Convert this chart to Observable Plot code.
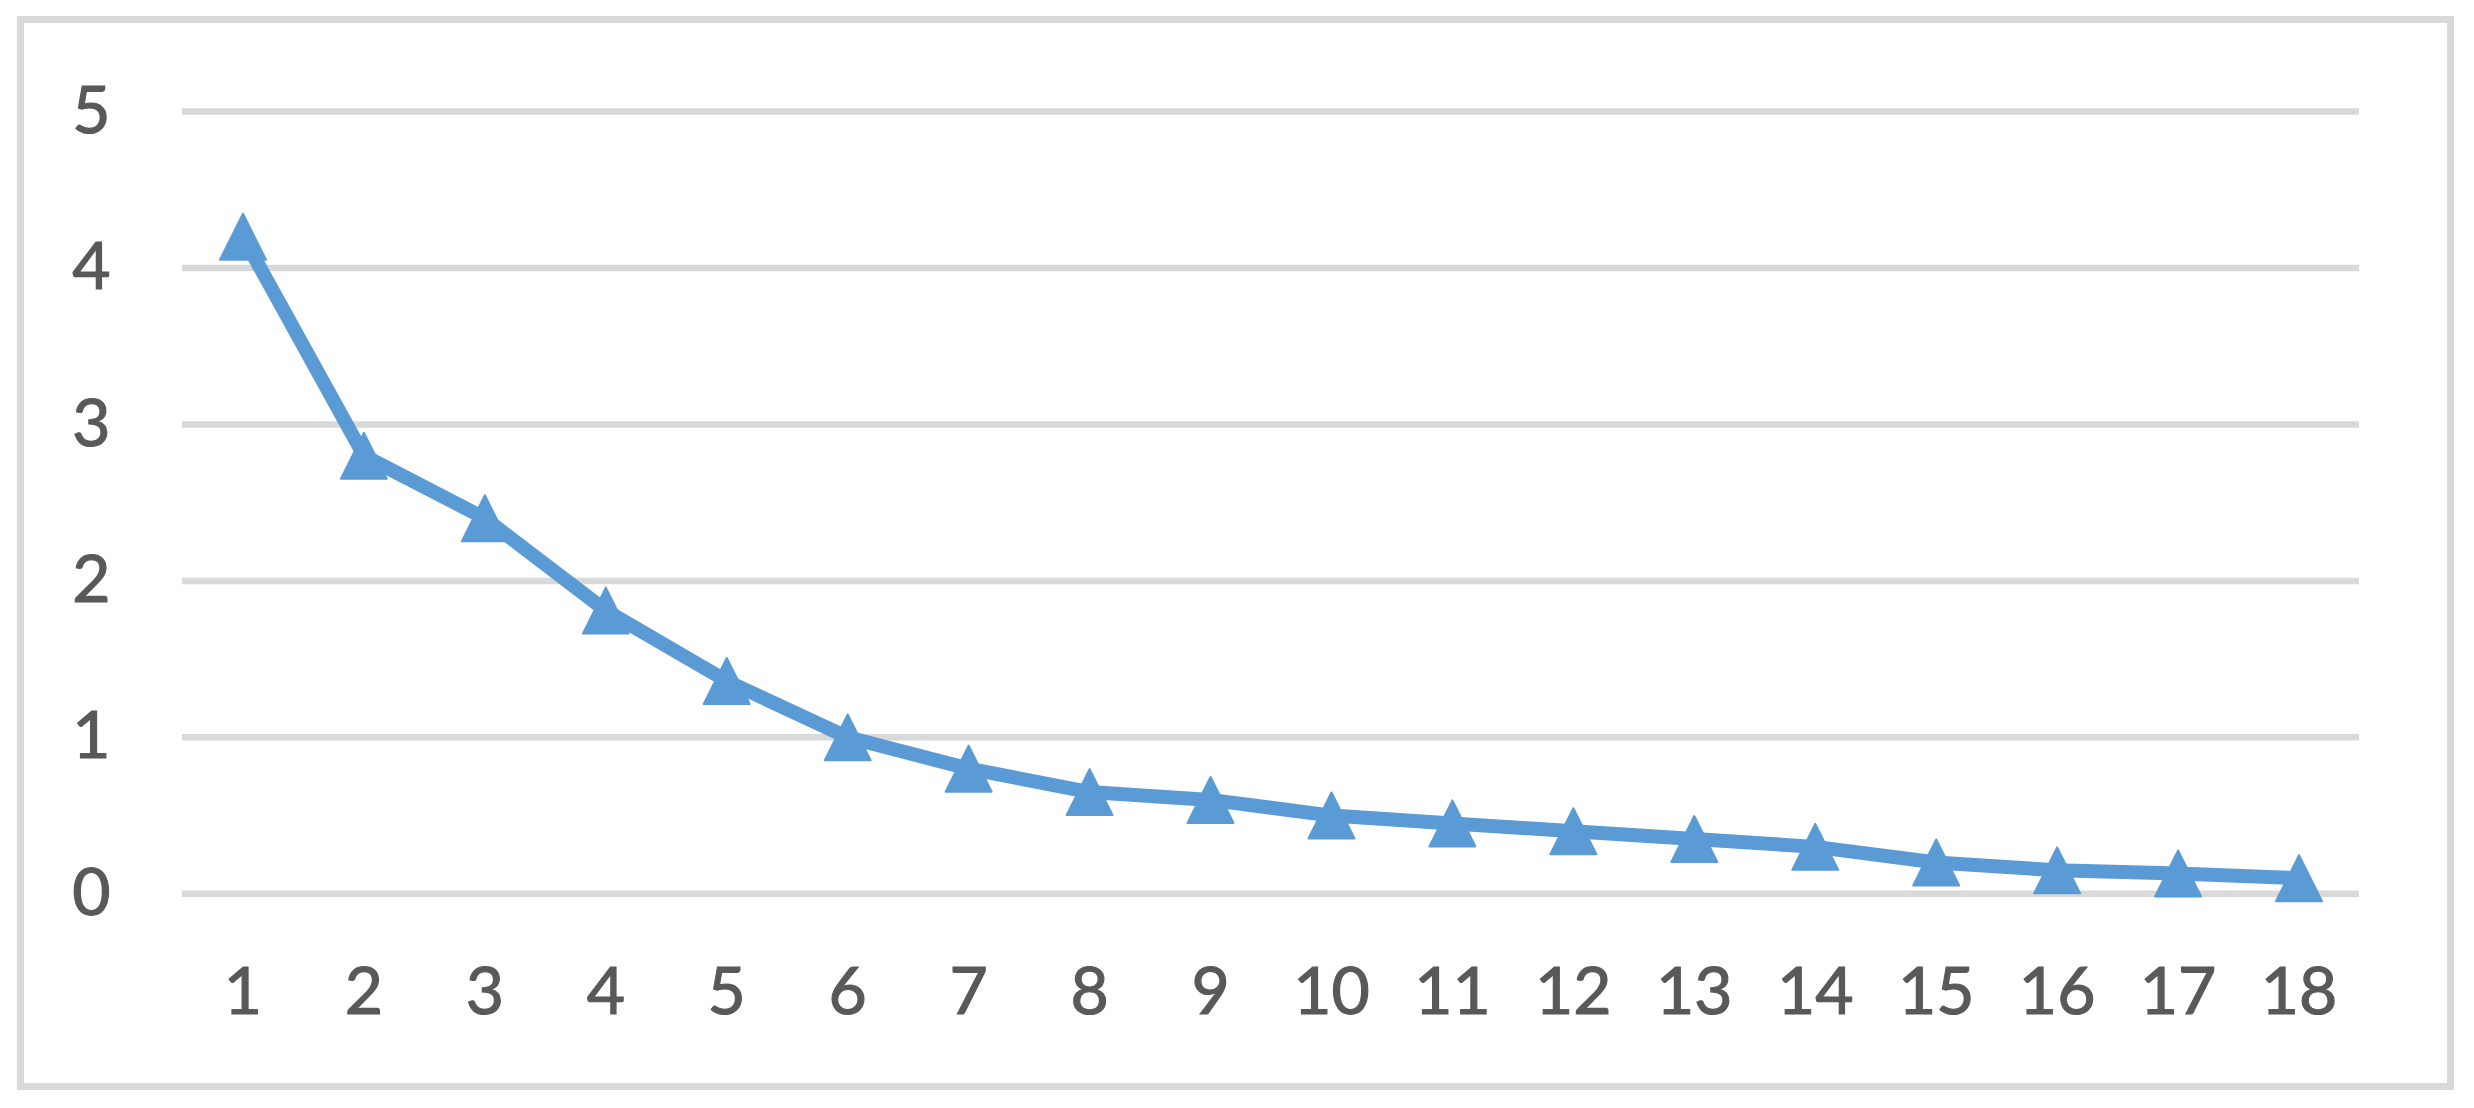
<!DOCTYPE html>
<html>
<head>
<meta charset="utf-8">
<script src="https://cdn.jsdelivr.net/npm/d3@7"></script>
<script src="https://cdn.jsdelivr.net/npm/@observablehq/plot@0.6"></script>
<style>
  body { margin: 0; background: #fff; }
  #wrap { position: relative; width: 2474px; height: 1108px; }
  #wrap svg { position: absolute; left: 0; top: 0; }
  #wrap svg text { font-weight: 400; stroke: #595959; stroke-width: 1.2px; }
  #frame { position: absolute; left: 17px; top: 16px; width: 2437px; height: 1074px; box-sizing: border-box; border: 7px solid #d9d9d9; pointer-events: none; }
</style>
</head>
<body>
<div id="wrap"><div id="frame"></div></div>
<script>
const categories = ["1","2","3","4","5","6","7","8","9","10","11","12","13","14","15","16","17","18"];
const values = [4.2, 2.8, 2.4, 1.81, 1.36, 1.0, 0.8, 0.65, 0.6, 0.5, 0.45, 0.4, 0.35, 0.3, 0.2, 0.15, 0.13, 0.1];
const yTicks = [0, 1, 2, 3, 4, 5];

const data = categories.map((c, i) => ({ c, v: values[i] }));

// Excel-style triangle: as tall as it is wide, centred on its bounding box
const triangle = {
  draw(ctx, size) {
    const r = Math.sqrt(size / Math.PI);
    ctx.moveTo(0, -r);
    ctx.lineTo(r, r);
    ctx.lineTo(-r, r);
    ctx.closePath();
  }
};

const blue = "#5b9bd5";

const chart = Plot.plot({
  width: 2474,
  height: 1108,
  marginLeft: 182,
  marginRight: 115,
  marginTop: 111,
  marginBottom: 214.7,
  style: { fontFamily: "Lato, 'Open Sans', sans-serif", fontSize: "66px", fontWeight: "400", color: "#595959", background: "transparent" },
  x: { type: "point", domain: categories, padding: 0.5, round: false },
  y: { domain: [0, 5] },
  marks: [
    Plot.ruleY(yTicks, { stroke: "#d9d9d9", strokeWidth: 6.5 }),
    Plot.axisY(yTicks, { tickSize: 0, tickPadding: 72, label: null, fill: "#595959", tickFormat: d => String(d) }),
    Plot.axisX({ tickSize: 0, tickPadding: 73, label: null, fill: "#595959" }),
    Plot.line(data, { x: "c", y: "v", stroke: blue, strokeWidth: 14, strokeLinejoin: "round" }),
    Plot.dot(data, { x: "c", y: "v", symbol: triangle, r: 23, fill: blue, stroke: blue, strokeWidth: 2, strokeLinejoin: "round" })
  ]
});

document.getElementById("wrap").insertBefore(chart, document.getElementById("frame"));
</script>
</body>
</html>
